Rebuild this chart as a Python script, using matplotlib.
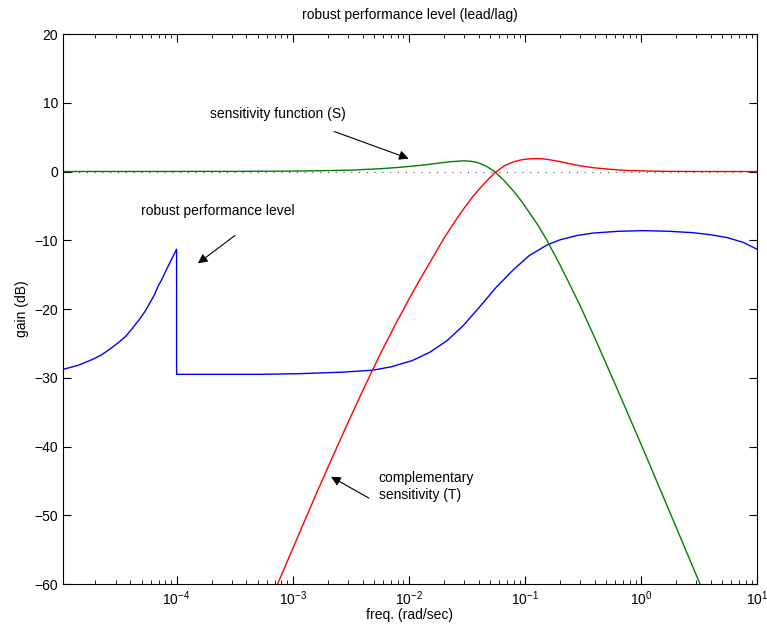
import numpy as np
import matplotlib
matplotlib.use("Agg")
import matplotlib.pyplot as plt

plt.rcParams['font.family'] = ['Liberation Sans', 'DejaVu Sans']
plt.rcParams['font.size'] = 10

# sensitivity function S (green), log10 of freq and gain in dB
s_logw = [-4.983, -3.5, -3.0, -2.75, -2.5, -2.25, -2.1, -1.99, -1.9, -1.82,
          -1.73, -1.65, -1.58, -1.53, -1.47, -1.42, -1.39, -1.33, -1.26, -1.18,
          -1.10, -1.03, -0.96, -0.88, -0.81, -0.75, -0.70, -0.62, -0.53, -0.4,
          -0.2, 0.017, 0.25, 0.509]
s_db = [0.0, 0.02, 0.06, 0.12, 0.2, 0.4, 0.58, 0.75, 0.9, 1.05,
        1.25, 1.4, 1.5, 1.55, 1.5, 1.35, 1.2, 0.75, 0.0, -1.3,
        -2.8, -4.3, -6.0, -8.0, -10.0, -11.9, -13.5, -16.2, -19.3, -24.1,
        -31.8, -40.3, -49.6, -60.0]

# complementary sensitivity T (red)
t_logw = [-3.13, -2.94, -2.8, -2.68, -2.51, -2.4, -2.31, -2.25, -2.12, -1.99,
          -1.9, -1.80, -1.70, -1.60, -1.53, -1.46, -1.39, -1.33, -1.26, -1.18,
          -1.10, -1.03, -0.96, -0.88, -0.81, -0.70, -0.62, -0.53, -0.41, -0.25,
          -0.12, 0.16, 0.5, 1.0]
t_db = [-60.0, -52.5, -47.0, -42.4, -36.0, -32.0, -28.8, -26.7, -22.4, -18.3,
        -15.6, -12.7, -9.8, -7.2, -5.5, -3.9, -2.5, -1.4, -0.2, 0.8,
        1.4, 1.7, 1.85, 1.88, 1.78, 1.45, 1.15, 0.85, 0.55, 0.3,
        0.15, 0.03, 0.0, 0.0]

# robust performance level (blue)
rp_logw = [-4.983, -4.85, -4.72, -4.65, -4.58, -4.51, -4.44, -4.38, -4.32, -4.27,
           -4.23, -4.19, -4.16, -4.13, -4.10, -4.05, -4.0,
           -4.0, -3.28, -2.94, -2.59, -2.31, -2.15, -1.97, -1.82, -1.67,
           -1.53, -1.39, -1.25, -1.10, -0.96, -0.81, -0.70, -0.55, -0.41, -0.2,
           0.017, 0.25, 0.45, 0.6, 0.74, 0.88, 1.0]
rp_db = [-28.8, -28.2, -27.3, -26.7, -25.9, -25.0, -24.0, -22.8, -21.5, -20.3,
         -19.1, -17.9, -16.7, -15.8, -14.7, -13.0, -11.3,
         -29.5, -29.5, -29.4, -29.2, -28.9, -28.4, -27.5, -26.3, -24.6,
         -22.4, -19.7, -16.9, -14.3, -12.2, -10.7, -9.95, -9.3, -8.95, -8.7,
         -8.6, -8.7, -8.9, -9.2, -9.6, -10.3, -11.3]

fig = plt.figure(figsize=(7.67, 6.32), dpi=100)
ax = fig.add_axes([0.0821, 0.0759, 0.9049, 0.8703])

ax.plot([1.05e-5, 10], [0, 0], color='0.3', lw=0.8, dashes=(1, 6))
ax.plot(10 ** np.array(rp_logw), rp_db, color='b', lw=1.0)
ax.plot(10 ** np.array(s_logw), s_db, color=(0, 0.5, 0), lw=1.0)
ax.plot(10 ** np.array(t_logw), t_db, color='r', lw=1.0)

ax.set_xscale('log')
ax.set_xlim(1.05e-5, 10)
ax.set_ylim(-60, 20)
ax.set_yticks(np.arange(-60, 21, 10))
ax.tick_params(which='both', direction='in', top=True, right=True)
ax.tick_params(which='major', length=6)
ax.tick_params(which='minor', length=3)
ax.tick_params(axis='x', pad=4)

ax.set_title('robust performance level (lead/lag)', fontsize=10, pad=11)
ax.set_xlabel('freq. (rad/sec)', labelpad=0)
ax.set_ylabel('gain (dB)')

arr = dict(arrowstyle='-|>', color='k', lw=0.8, mutation_scale=14)
ax.annotate('', xy=(1.05e-2, 1.75), xytext=(2.16e-3, 5.96), arrowprops=arr)
ax.text(1.95e-4, 8.3, 'sensitivity function (S)', ha='left', va='center')
ax.annotate('', xy=(1.46e-4, -13.6), xytext=(3.33e-4, -9.06), arrowprops=arr)
ax.text(4.9e-5, -5.8, 'robust performance level', ha='left', va='center')
ax.annotate('', xy=(2.04e-3, -44.2), xytext=(4.76e-3, -47.7), arrowprops=arr)
ax.text(5.5e-3, -45.8, 'complementary\nsensitivity (T)', ha='left', va='center')

fig.savefig('out.png', dpi=100)
